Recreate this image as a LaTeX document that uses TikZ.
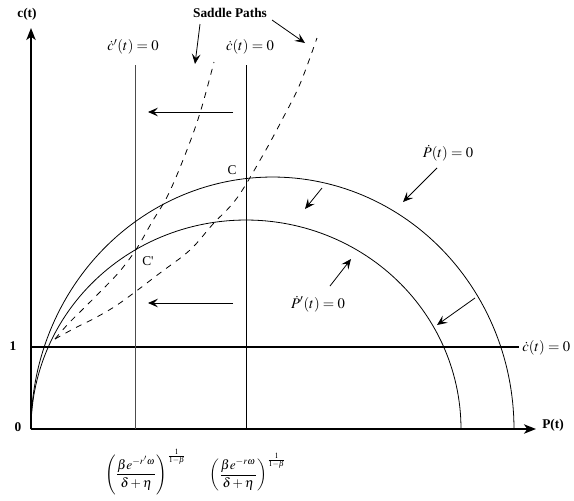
\documentclass[tikz,border=0pt]{standalone}
\usepackage{mathptmx}
\usepackage{fontspec}
\setmainfont{Liberation Serif}
\usetikzlibrary{arrows.meta}
\tikzset{
  axisline/.style={line width=1.5pt,-{Stealth[length=9pt,width=7pt,inset=2.5pt]}},
  curveline/.style={line width=0.6pt},
  nullline/.style={line width=0.6pt},
  saddle/.style={line width=0.6pt,dash pattern=on 4.5pt off 4.5pt},
  flowarrow/.style={line width=0.6pt,-{Stealth[length=7.5pt,width=6.5pt,inset=3pt]}},
  lbl/.style={inner sep=0pt,font=\fontsize{11}{12}\selectfont},
  boldlbl/.style={inner sep=0pt,font=\bfseries\fontsize{10}{12}\selectfont},
}
\begin{document}
\begin{tikzpicture}[x=0.75pt,y=-0.75pt]
\useasboundingbox (0,0) rectangle (574,500);
% axes
\coordinate (O) at (31,429);
\coordinate (Ytip) at (31,28);
\coordinate (Xtip) at (536,429);
\draw[axisline] (O) -- (Ytip);
\draw[axisline] (O) -- (Xtip);
\node[boldlbl] (ylab) at (27,14) {c(t)};
\node[boldlbl] (xlab) at (553,425) {P(t)};
\node[boldlbl] (zero) at (18,427) {0};
\node[boldlbl] (one) at (13,346) {1};
% horizontal c-dot = 0
\coordinate (H1) at (31,347);
\coordinate (H2) at (519,347);
\draw[line width=0.9pt] (H1) -- (H2);
\node[lbl,anchor=west] (cdotR) at (522,348) {$\dot{c}(t)=0$};
% vertical lines
\coordinate (V1t) at (135,65);
\coordinate (V1b) at (135,429);
\coordinate (V2t) at (246,65);
\coordinate (V2b) at (246,429);
\draw[nullline,black!70] (V1t) -- (V1b);
\draw[nullline] (V2t) -- (V2b);
\node[lbl] (cdotp) at (133,47) {$\dot{c}'(t)=0$};
\node[lbl] (cdot) at (250,47) {$\dot{c}(t)=0$};
% semi-ellipses
\draw[curveline] plot[domain=180:0,samples=120,variable=\t] ({272.5+241.5*cos(\t)},{429-252*sin(\t)});
\draw[curveline] plot[domain=180:0,samples=120,variable=\t] ({246+215*cos(\t)},{429-209*sin(\t)});
% saddle paths
\draw[saddle] plot[smooth,tension=0.6] coordinates {(55,339) (68,324) (82,310) (100,292) (120,271) (137,248) (152,222) (168,195) (185,155) (200,113) (214,62)};
\draw[saddle] plot[smooth,tension=0.6] coordinates {(55,339) (75,328) (95,318) (120,303) (160,273) (190,250) (213,224) (237,198) (263,155) (283,118) (300,84) (317,38)};
% point labels
\node[inner sep=0pt,font=\fontsize{10}{12}\selectfont] (Clab) at (232,170) {C};
\node[inner sep=0pt,font=\fontsize{10}{12}\selectfont] (Cplab) at (148,261) {C\textquotesingle};
% Saddle paths label
\node[boldlbl] (sp) at (230,13) {Saddle Paths};
\coordinate (sp1) at (195,64);
\coordinate (sp2) at (305,43);
\draw[flowarrow] (200,24) -- (sp1);
\draw[flowarrow] (272,20) -- (sp2);
% flow arrows
\coordinate (a1s) at (233,112);
\coordinate (a1e) at (148,112);
\coordinate (a2s) at (233,303);
\coordinate (a2e) at (148,303);
\coordinate (a3s) at (322,188);
\coordinate (a3e) at (305,209);
\coordinate (a6s) at (475,298);
\coordinate (a6e) at (437,325);
\draw[flowarrow] (a1s) -- (a1e);
\draw[flowarrow] (a2s) -- (a2e);
\draw[flowarrow] (a3s) -- (a3e);
\draw[flowarrow] (a6s) -- (a6e);
% P-dot labels
\node[lbl] (Pdot) at (448,153) {$\dot{P}(t)=0$};
\coordinate (pd) at (403,202);
\draw[flowarrow] (437,168) -- (pd);
\node[lbl] (Pdotp) at (318,304) {$\dot{P}'(t)=0$};
\coordinate (pdp) at (351,259);
\draw[flowarrow] (330,286) -- (pdp);
% bottom formulas
\node[inner sep=0pt,font=\fontsize{10}{12}\selectfont] (f1) at (146,472) {$\displaystyle\left(\frac{\beta e^{-r'\omega}}{\delta+\eta}\right)^{\frac{1}{1-\beta}}$};
\node[inner sep=0pt,font=\fontsize{10}{12}\selectfont] (f2) at (248,472) {$\displaystyle\left(\frac{\beta e^{-r\omega}}{\delta+\eta}\right)^{\frac{1}{1-\beta}}$};
\end{tikzpicture}
\end{document}
